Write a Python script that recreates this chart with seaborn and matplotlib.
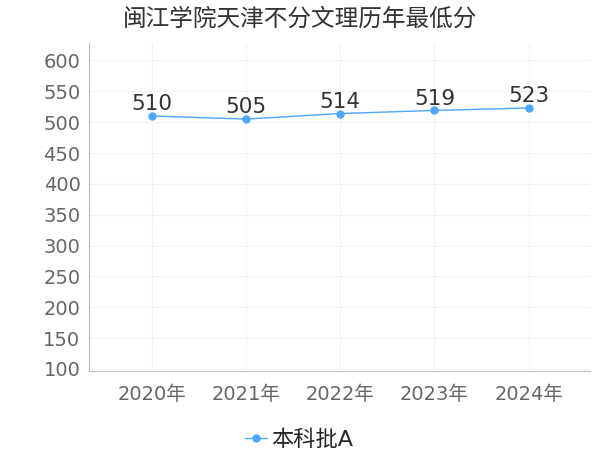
import pandas as pd
import matplotlib
matplotlib.use('Agg')
import matplotlib.pyplot as plt
import seaborn as sns

years = ['2020年', '2021年', '2022年', '2023年', '2024年']
scores = [510, 505, 514, 519, 523]
series_name = '本科批A'
title = '闽江学院天津不分文理历年最低分'

df = pd.DataFrame({'year': years, 'score': scores, 'batch': series_name})

sns.set_style('white')
plt.rcParams['font.family'] = ['DejaVu Sans', 'Noto Sans CJK SC']

fig = plt.figure(figsize=(6, 4.5), dpi=100)
ax = fig.add_axes([0.148, 0.176, 0.835, 0.728])

sns.lineplot(data=df, x='year', y='score', hue='batch', palette=['#4da6ff'],
             marker='o', markersize=6, markeredgewidth=0, linewidth=1, ax=ax)

for i, v in enumerate(scores):
    ax.text(i, v + 3, str(v), ha='center', va='bottom', fontsize=15.5, color='#333333')

ax.set_ylim(97, 628)
ax.set_xlim(-0.67, 4.65)
ax.set_yticks(range(100, 601, 50))
ax.grid(True, color='#f2f2f2', linewidth=0.8)
ax.set_xlabel('')
ax.set_ylabel('')
ax.tick_params(axis='both', labelsize=14, colors='#666666', length=0, pad=6)
ax.tick_params(axis='x', length=4, color='#bbbbbb')
for s in ['top', 'right']:
    ax.spines[s].set_visible(False)
for s in ['left', 'bottom']:
    ax.spines[s].set_color('#bbbbbb')

ax.legend(loc='center', bbox_to_anchor=(0.42, -0.21), frameon=False,
          fontsize=16, handlelength=1.0, handletextpad=0.2)
fig.suptitle(title, x=0.5, y=0.985, fontsize=17, color='#333333')

fig.savefig('out.png', dpi=100)
